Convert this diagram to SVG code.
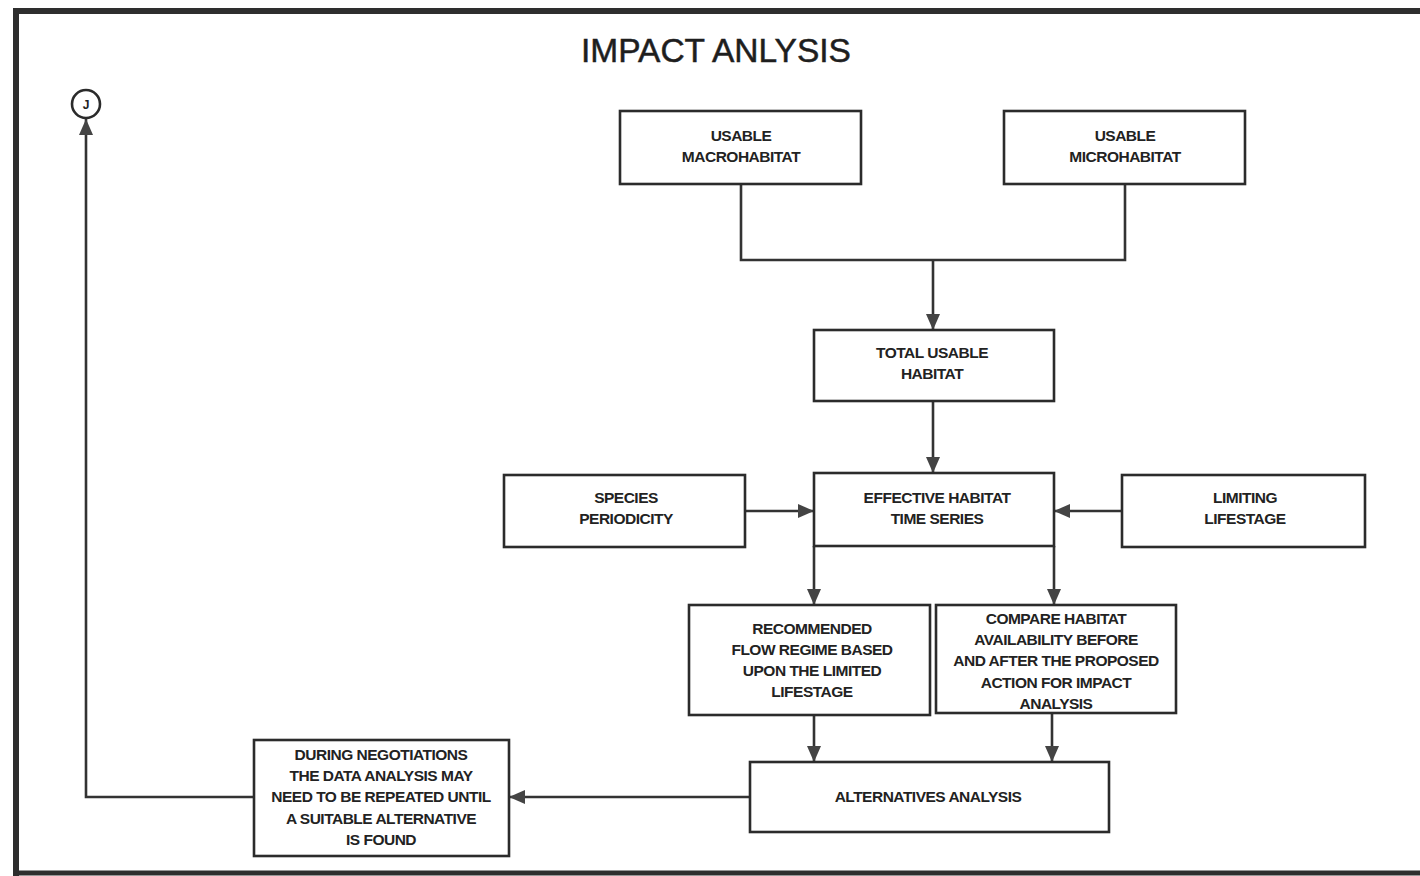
<svg xmlns="http://www.w3.org/2000/svg" width="1420" height="876" viewBox="0 0 1420 876">
  <style>
    .box { fill: #ffffff; stroke: #2b2b2b; stroke-width: 2.6; }
    .lbl { font-family: "Liberation Sans", Arial, sans-serif; font-size: 15.5px; font-weight: bold; fill: #222222; text-anchor: middle; letter-spacing: -0.5px; }
    .wire { fill: none; stroke: #333333; stroke-width: 2.6; }
    .title { font-family: "Liberation Sans", Arial, sans-serif; font-size: 33.5px; fill: #1e1e1e; stroke: #1e1e1e; stroke-width: 0.5; text-anchor: middle; }
  </style>
  <defs>
    <marker id="tri" viewBox="0 0 16 14" refX="16" refY="7" markerWidth="16" markerHeight="14" markerUnits="userSpaceOnUse" orient="auto">
      <path d="M0,0 L16,7 L0,14 Z" fill="#444444"/>
    </marker>
  </defs>

  <rect x="0" y="0" width="1420" height="876" fill="#ffffff"/>

  <!-- page frame -->
  <path d="M16,876 L16,11 L1420,11" fill="none" stroke="#2e2e2e" stroke-width="6"/>
  <path d="M16,873 L1420,873" fill="none" stroke="#2e2e2e" stroke-width="5"/>

  <text class="title" x="716" y="62">IMPACT ANLYSIS</text>

  <g id="connectors">
    <!-- macro + micro join into total usable habitat -->
    <path class="wire" d="M741,184 L741,260 L1125,260 L1125,184"/>
    <path class="wire" d="M933,260 L933,330" marker-end="url(#tri)"/>
    <path class="wire" d="M933,401 L933,473" marker-end="url(#tri)"/>
    <path class="wire" d="M745,511 L814,511" marker-end="url(#tri)"/>
    <path class="wire" d="M1122,511 L1054,511" marker-end="url(#tri)"/>
    <path class="wire" d="M814,546 L814,605" marker-end="url(#tri)"/>
    <path class="wire" d="M1054,546 L1054,605" marker-end="url(#tri)"/>
    <path class="wire" d="M814,715 L814,762" marker-end="url(#tri)"/>
    <path class="wire" d="M1052,713 L1052,762" marker-end="url(#tri)"/>
    <path class="wire" d="M750,797 L509,797" marker-end="url(#tri)"/>
    <path class="wire" d="M254,797 L86,797 L86,119" marker-end="url(#tri)"/>
  </g>

  <g id="node-j">
    <circle cx="86" cy="104" r="14" fill="#ffffff" stroke="#2b2b2b" stroke-width="2.6"/>
    <text class="lbl" x="86" y="109" style="font-size:12px;letter-spacing:0">J</text>
  </g>

  <g id="node-macro">
    <rect class="box" x="620" y="111" width="241" height="73"/>
    <text class="lbl" x="741" y="141">USABLE</text>
    <text class="lbl" x="741" y="162">MACROHABITAT</text>
  </g>

  <g id="node-micro">
    <rect class="box" x="1004" y="111" width="241" height="73"/>
    <text class="lbl" x="1125" y="141">USABLE</text>
    <text class="lbl" x="1125" y="162">MICROHABITAT</text>
  </g>

  <g id="node-total">
    <rect class="box" x="814" y="330" width="240" height="71"/>
    <text class="lbl" x="932" y="358">TOTAL USABLE</text>
    <text class="lbl" x="932" y="379">HABITAT</text>
  </g>

  <g id="node-species">
    <rect class="box" x="504" y="475" width="241" height="72"/>
    <text class="lbl" x="626" y="503">SPECIES</text>
    <text class="lbl" x="626" y="524">PERIODICITY</text>
  </g>

  <g id="node-effective">
    <rect class="box" x="814" y="473" width="240" height="73"/>
    <text class="lbl" x="937" y="503">EFFECTIVE HABITAT</text>
    <text class="lbl" x="937" y="524">TIME SERIES</text>
  </g>

  <g id="node-limiting">
    <rect class="box" x="1122" y="475" width="243" height="72"/>
    <text class="lbl" x="1245" y="503">LIMITING</text>
    <text class="lbl" x="1245" y="524">LIFESTAGE</text>
  </g>

  <g id="node-recommended">
    <rect class="box" x="689" y="605" width="241" height="110"/>
    <text class="lbl" x="812" y="634">RECOMMENDED</text>
    <text class="lbl" x="812" y="655">FLOW REGIME BASED</text>
    <text class="lbl" x="812" y="676">UPON THE LIMITED</text>
    <text class="lbl" x="812" y="697">LIFESTAGE</text>
  </g>

  <g id="node-compare">
    <rect class="box" x="936" y="605" width="240" height="108"/>
    <text class="lbl" x="1056" y="624">COMPARE HABITAT</text>
    <text class="lbl" x="1056" y="645">AVAILABILITY BEFORE</text>
    <text class="lbl" x="1056" y="666">AND AFTER THE PROPOSED</text>
    <text class="lbl" x="1056" y="688">ACTION FOR IMPACT</text>
    <text class="lbl" x="1056" y="709">ANALYSIS</text>
  </g>

  <g id="node-alternatives">
    <rect class="box" x="750" y="762" width="359" height="70"/>
    <text class="lbl" x="928" y="802">ALTERNATIVES ANALYSIS</text>
  </g>

  <g id="node-negotiations">
    <rect class="box" x="254" y="740" width="255" height="116"/>
    <text class="lbl" x="381" y="760">DURING NEGOTIATIONS</text>
    <text class="lbl" x="381" y="781">THE DATA ANALYSIS MAY</text>
    <text class="lbl" x="381" y="802">NEED TO BE REPEATED UNTIL</text>
    <text class="lbl" x="381" y="824">A SUITABLE ALTERNATIVE</text>
    <text class="lbl" x="381" y="845">IS FOUND</text>
  </g>
</svg>
